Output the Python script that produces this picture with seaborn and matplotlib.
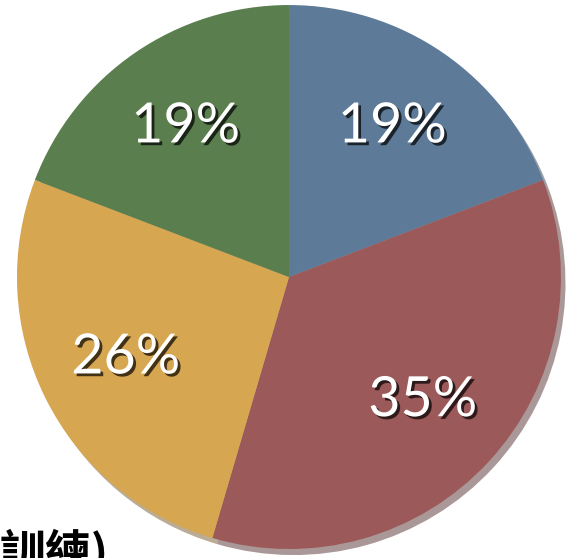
import matplotlib
matplotlib.use('Agg')
import matplotlib.pyplot as plt
import matplotlib.patheffects as pe
import seaborn as sns

# data
labels = ['藍', '紅', '黃', '綠']
values = [19, 35, 26, 19]
colors = ['#5d7b99', '#9b5a59', '#d7a650', '#5b7e4e']

sns.set_theme(style='white')
plt.rcParams['font.family'] = ['Lato', 'Noto Sans CJK TC', 'DejaVu Sans']

fig = plt.figure(figsize=(5.74, 5.58), dpi=100)
fig.patch.set_facecolor('white')
ax = fig.add_axes([0.0296, 0.0161, 0.9477, 0.9749])

wedges, texts, autotexts = ax.pie(
    values, colors=colors, startangle=90, counterclock=False,
    autopct='%d%%', pctdistance=0.67, radius=1,
    wedgeprops={'linewidth': 0},
    shadow={'ox': 0.012, 'oy': -0.016, 'shade': 0.45},
)
ax.set_xlim(-1, 1)
ax.set_ylim(-1, 1)
ax.axis('off')

# autopct rounds by values/sum, so put the read values back
for t, v in zip(autotexts, values):
    t.set_text(f'{v}%')
    t.set_color('white')
    t.set_fontsize(40)
    t.set_path_effects([pe.withSimplePatchShadow(offset=(2, -2), shadow_rgbFace='black', alpha=0.7)])

fig.text(0.0, 1 - 530 / 558, '訓練)', fontsize=33, fontweight='heavy', color='black',
         ha='left', va='top', family=['Noto Sans CJK TC', 'DejaVu Sans'])

plt.savefig('out.png', dpi=100)
plt.close()
